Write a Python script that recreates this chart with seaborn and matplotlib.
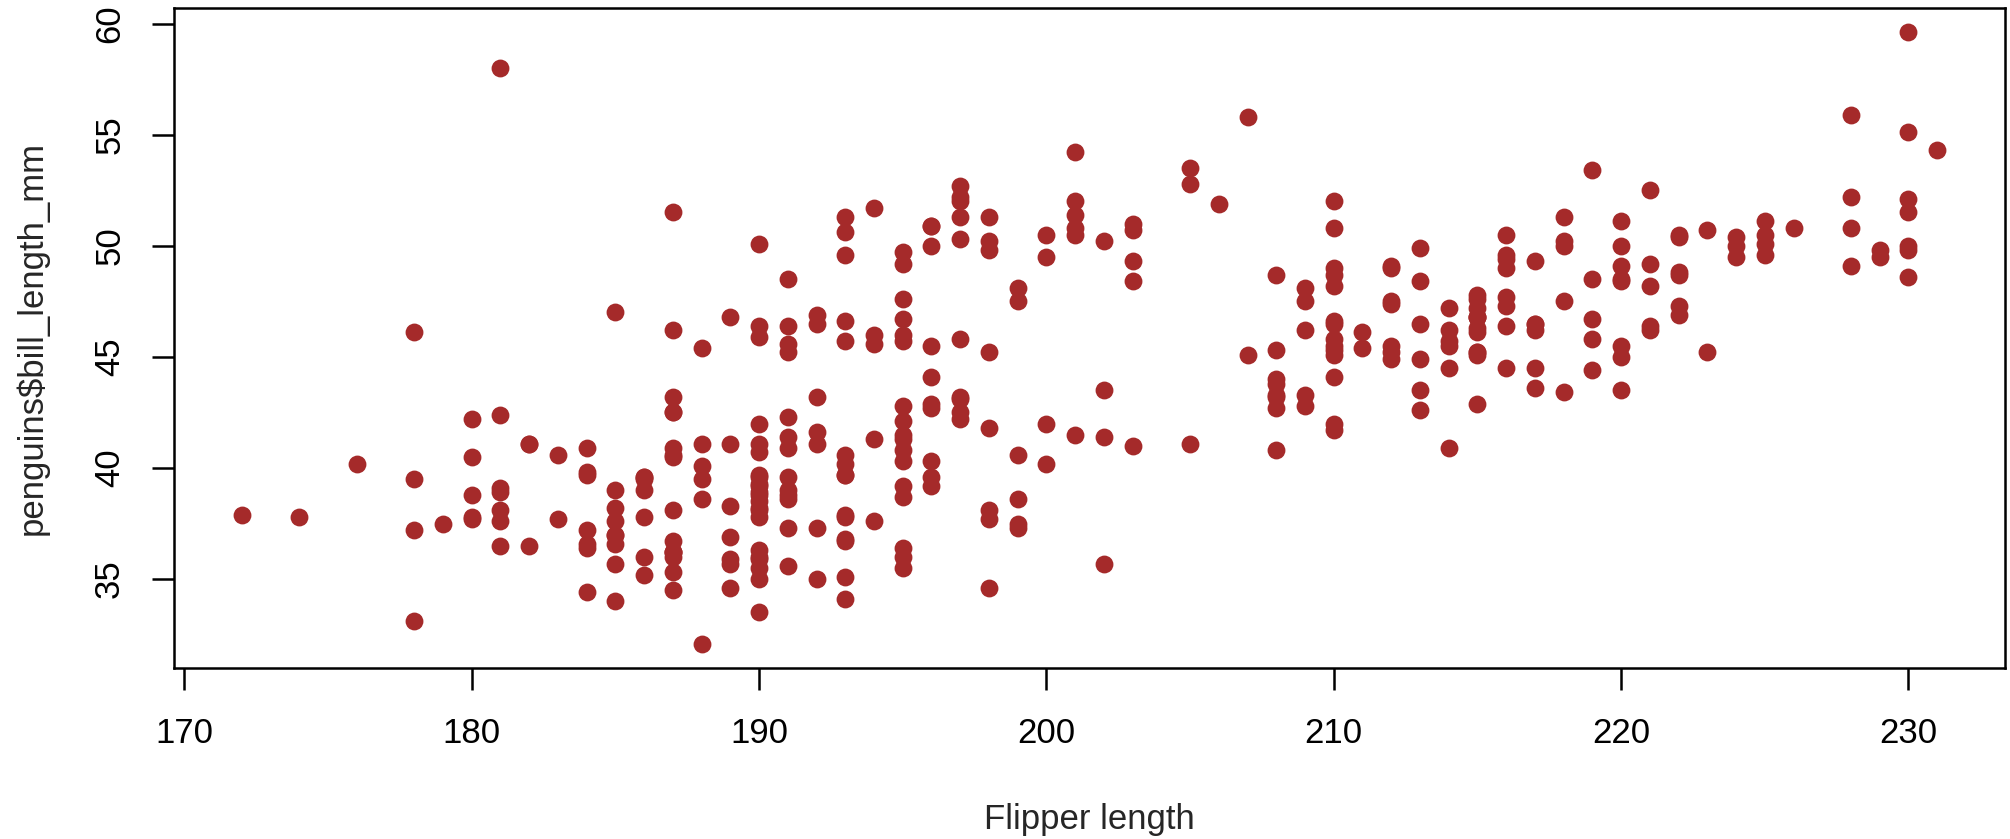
import numpy as np
import pandas as pd
import matplotlib
matplotlib.use("Agg")
import matplotlib.pyplot as plt
import seaborn as sns

# Palmer penguins: flipper length (mm) and bill length (mm), by species
adelie_flipper = [181, 186, 195, 193, 190, 181, 195, 193, 190, 186, 180, 182, 191, 198, 185, 195, 197, 184, 194,
                  174, 180, 189, 185, 180, 187, 183, 187, 172, 180, 178, 178, 188, 184, 195, 196, 190, 180, 181,
                  184, 182, 195, 186, 196, 185, 190, 182, 179, 190, 191, 186, 188, 190, 200, 187, 191, 186, 193,
                  181, 194, 185, 195, 185, 192, 184, 192, 195, 188, 190, 198, 190, 190, 196, 197, 190, 195, 191,
                  184, 187, 195, 189, 196, 187, 193, 191, 194, 190, 189, 189, 190, 202, 205, 185, 186, 187, 208,
                  190, 196, 178, 192, 192, 203, 183, 190, 193, 184, 199, 190, 181, 197, 198, 191, 193, 197, 191,
                  196, 188, 199, 189, 189, 187, 198, 176, 202, 186, 199, 191, 195, 191, 210, 190, 197, 193, 199,
                  187, 190, 191, 200, 185, 193, 193, 187, 188, 190, 192, 185, 190, 184, 195, 193, 187, 201]
adelie_bill = [39.1, 39.5, 40.3, 36.7, 39.3, 38.9, 39.2, 34.1, 42.0, 37.8, 37.8, 41.1, 38.6, 34.6, 36.6, 38.7, 42.5,
               34.4, 46.0, 37.8, 37.7, 35.9, 38.2, 38.8, 35.3, 40.6, 40.5, 37.9, 40.5, 39.5, 37.2, 39.5, 40.9, 36.4,
               39.2, 38.8, 42.2, 37.6, 39.8, 36.5, 40.8, 36.0, 44.1, 37.0, 39.6, 41.1, 37.5, 36.0, 42.3, 39.6, 40.1,
               35.0, 42.0, 34.5, 41.4, 39.0, 40.6, 36.5, 37.6, 35.7, 41.3, 37.6, 41.1, 36.4, 41.6, 35.5, 41.1, 35.9,
               41.8, 33.5, 39.7, 39.6, 45.8, 35.5, 42.8, 40.9, 37.2, 36.2, 42.1, 34.6, 42.9, 36.7, 35.1, 37.3, 41.3,
               36.3, 36.9, 38.3, 38.9, 35.7, 41.1, 34.0, 39.6, 36.2, 40.8, 38.1, 40.3, 33.1, 43.2, 35.0, 41.0, 37.7,
               37.8, 37.9, 39.7, 38.6, 38.2, 38.1, 43.2, 38.1, 45.6, 39.7, 42.2, 39.6, 42.7, 38.6, 37.3, 35.7, 41.1,
               36.2, 37.7, 40.2, 41.4, 35.2, 40.6, 38.8, 41.5, 39.0, 44.1, 38.5, 43.1, 36.8, 37.5, 38.1, 41.1, 35.6,
               40.2, 37.0, 39.7, 40.2, 40.6, 32.1, 40.7, 37.3, 39.0, 39.2, 36.6, 36.0, 37.8, 36.0, 41.5]

gentoo_flipper = [211, 230, 210, 218, 215, 210, 211, 219, 209, 215, 214, 216, 214, 213, 210, 217, 210, 221, 209,
                  222, 218, 215, 213, 215, 215, 215, 216, 215, 210, 220, 222, 209, 207, 230, 220, 220, 213, 219,
                  208, 208, 208, 225, 210, 216, 222, 217, 210, 225, 213, 215, 210, 220, 210, 225, 217, 220, 208,
                  220, 208, 224, 208, 221, 214, 231, 219, 230, 214, 229, 220, 223, 216, 221, 221, 217, 216, 230,
                  209, 220, 215, 223, 212, 221, 212, 224, 212, 228, 218, 218, 212, 230, 218, 228, 212, 224, 214,
                  226, 216, 222, 203, 225, 219, 228, 215, 228, 216, 215, 210, 219, 208, 209, 216, 229, 213, 230,
                  217, 230, 217, 222, 214, 215, 222, 212, 213]
gentoo_bill = [46.1, 50.0, 48.7, 50.0, 47.6, 46.5, 45.4, 46.7, 43.3, 46.8, 40.9, 49.0, 45.5, 48.4, 45.8, 49.3, 42.0,
               49.2, 46.2, 48.7, 50.2, 45.1, 46.5, 46.3, 42.9, 46.1, 44.5, 47.8, 48.2, 50.0, 47.3, 42.8, 45.1, 59.6,
               49.1, 48.4, 42.6, 44.4, 44.0, 48.7, 42.7, 49.6, 45.3, 49.6, 50.5, 43.6, 45.5, 50.5, 44.9, 45.2, 46.6,
               48.5, 45.1, 50.1, 46.5, 45.0, 43.8, 45.5, 43.2, 50.4, 45.3, 46.2, 45.7, 54.3, 45.8, 49.8, 46.2, 49.5,
               43.5, 50.7, 47.7, 46.4, 48.2, 46.5, 46.4, 48.6, 47.5, 51.1, 45.2, 45.2, 49.1, 52.5, 47.4, 50.0, 44.9,
               50.8, 43.4, 51.3, 47.5, 52.1, 47.5, 52.2, 45.5, 49.5, 44.5, 50.8, 49.4, 46.9, 48.4, 51.1, 48.5, 55.9,
               47.2, 49.1, 47.3, 46.8, 41.7, 53.4, 43.3, 48.1, 50.5, 49.8, 43.5, 51.5, 46.2, 55.1, 44.5, 48.8, 47.2,
               46.8, 50.4, 45.2, 49.9]

chinstrap_flipper = [192, 196, 193, 188, 197, 198, 178, 197, 195, 198, 193, 194, 185, 201, 190, 201, 197, 181, 190,
                     195, 181, 191, 187, 193, 195, 197, 200, 200, 191, 205, 187, 201, 187, 203, 195, 199, 195, 210,
                     192, 205, 210, 187, 196, 196, 196, 201, 190, 212, 187, 198, 199, 201, 193, 203, 187, 197, 191,
                     203, 202, 194, 206, 189, 195, 207, 202, 193, 210, 198]
chinstrap_bill = [46.5, 50.0, 51.3, 45.4, 52.7, 45.2, 46.1, 51.3, 46.0, 51.3, 46.6, 51.7, 47.0, 52.0, 45.9, 50.5,
                  50.3, 58.0, 46.4, 49.2, 42.4, 48.5, 43.2, 50.6, 46.7, 52.0, 50.5, 49.5, 46.4, 52.8, 40.9, 54.2,
                  42.5, 51.0, 49.7, 47.5, 47.6, 52.0, 46.9, 53.5, 49.0, 46.2, 50.9, 45.5, 50.9, 50.8, 50.1, 49.0,
                  51.5, 49.8, 48.1, 51.4, 45.7, 50.7, 42.5, 52.2, 45.2, 49.3, 50.2, 45.6, 51.9, 46.8, 45.7, 55.8,
                  43.5, 49.6, 50.8, 50.2]

x_ticks = [170, 180, 190, 200, 210, 220, 230]
y_ticks = [35, 40, 45, 50, 55, 60]

df = pd.DataFrame({
    "flipper_length_mm": adelie_flipper + gentoo_flipper + chinstrap_flipper,
    "bill_length_mm": adelie_bill + gentoo_bill + chinstrap_bill,
})

sns.set_style("white")
plt.rcParams["font.family"] = ["Liberation Sans", "DejaVu Sans"]

W, H = 2010, 839
FS = 25
fig = plt.figure(figsize=(W / 100, H / 100), dpi=100)
ax = fig.add_axes([174 / W, 1 - 668 / H, (2005 - 174) / W, (668 - 8) / H])

sns.scatterplot(data=df, x="flipper_length_mm", y="bill_length_mm", ax=ax,
                color="#A52A2A", s=165, linewidth=0, alpha=1)

# base-graphics style ranges: data range padded by 4% on each side
def padded(v):
    lo, hi = min(v), max(v)
    r = hi - lo
    return lo - 0.04 * r, hi + 0.04 * r

ax.set_xlim(*padded(df["flipper_length_mm"]))
ax.set_ylim(*padded(df["bill_length_mm"]))

ax.set_xticks(x_ticks)
ax.set_yticks(y_ticks)
ax.set_xticklabels([str(t) for t in x_ticks])
ax.set_yticklabels([str(t) for t in y_ticks], rotation=90, va="center")

for sp in ax.spines.values():
    sp.set_visible(True)
    sp.set_color("black")
    sp.set_linewidth(1.8)

ax.tick_params(axis="both", direction="out", length=15.5, width=1.8, colors="black",
               labelsize=FS, bottom=True, left=True)
ax.tick_params(axis="x", pad=20)
ax.tick_params(axis="y", pad=19)

ax.set_xlabel("")
ax.set_ylabel("")
fig.text(1089 / W, 1 - 829 / H, "Flipper length", ha="center", va="baseline", fontsize=FS)
fig.text(32 / W, 1 - 338 / H, "penguins$bill_length_mm", ha="center", va="center",
         rotation=90, fontsize=FS)

fig.savefig("out.png", dpi=100, facecolor="white")
